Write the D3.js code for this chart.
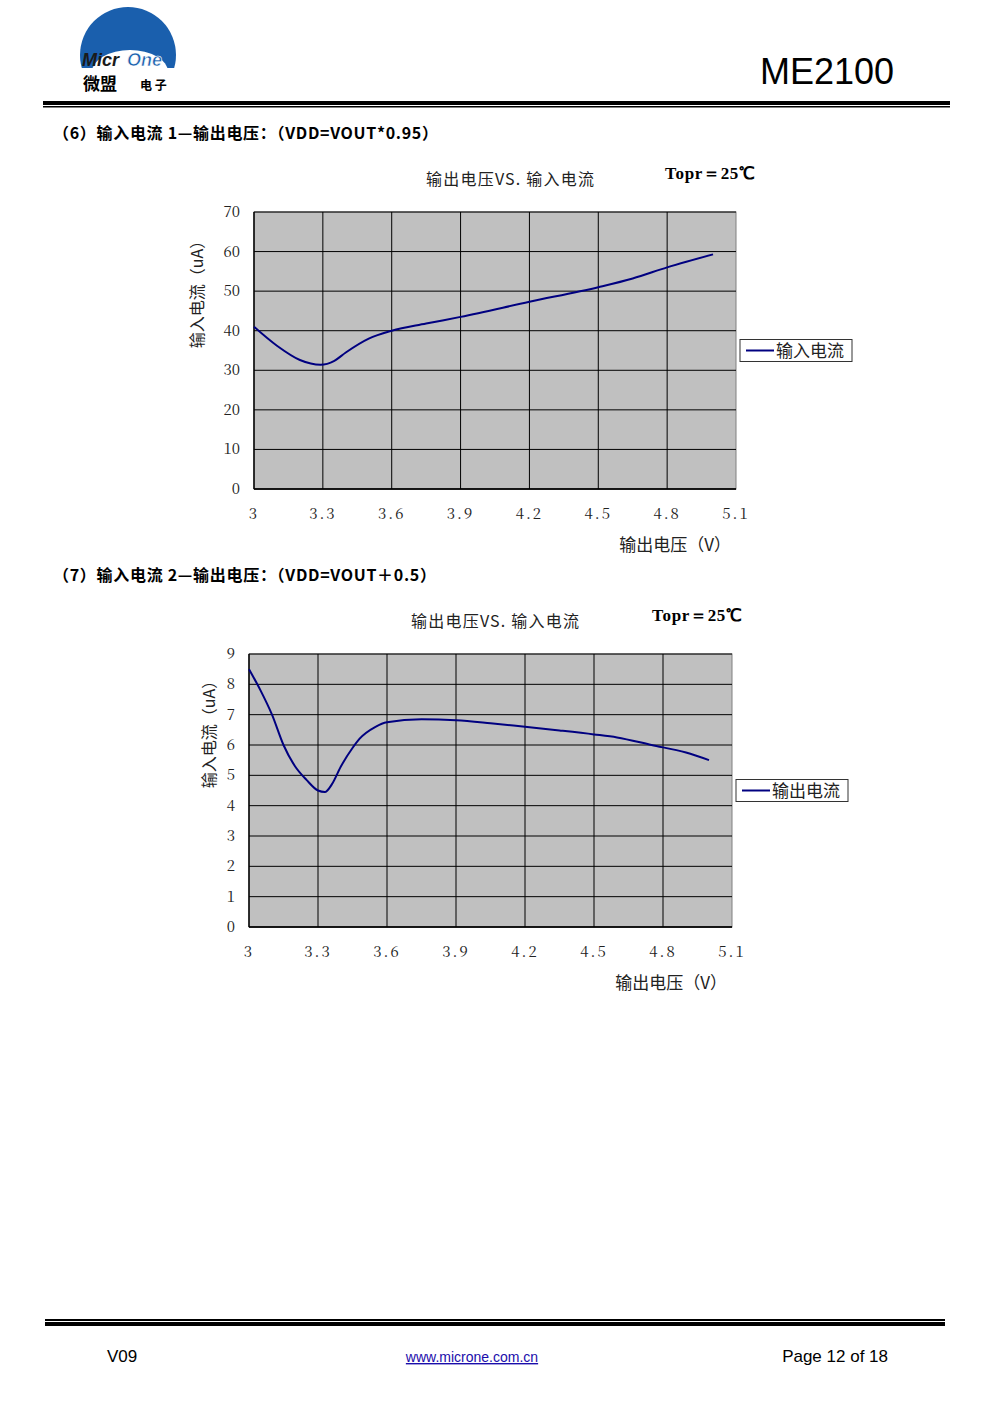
<!DOCTYPE html>
<html><head><meta charset="utf-8">
<script src="https://cdn.jsdelivr.net/npm/d3@7"></script>
<style>body{margin:0;background:#fff}svg{display:block}</style>
</head><body><div id="root"></div>
<script>
// chart values
var xTicks = [3, 3.3, 3.6, 3.9, 4.2, 4.5, 4.8, 5.1];
var volt1 = [3.0, 3.1, 3.2, 3.29, 3.35, 3.4, 3.5, 3.6, 3.75, 3.9, 4.2, 4.5, 4.65, 4.8, 5.0];
var curr1 = [41, 36.2, 32.6, 31.4, 32.4, 34.5, 38, 40, 41.8, 43.5, 47.3, 51, 53.2, 56, 59.3];
var volt2 = [3.0, 3.05, 3.1, 3.15, 3.2, 3.25, 3.3, 3.33, 3.36, 3.4, 3.45, 3.48, 3.55, 3.6, 3.75, 3.9, 4.05, 4.2, 4.35, 4.5, 4.6, 4.75, 4.9, 5.0];
var curr2 = [8.5, 7.8, 7.0, 6.0, 5.3, 4.85, 4.5, 4.45, 4.7, 5.3, 5.9, 6.2, 6.6, 6.75, 6.85, 6.82, 6.72, 6.6, 6.48, 6.35, 6.25, 6.0, 5.75, 5.5];

var root = d3.select('#root');
var svg = root.append('svg').attr('width', 991).attr('height', 1403);
var cjk = '"Noto Sans CJK SC", sans-serif';
var serifCjk = '"Noto Serif CJK SC","Noto Sans CJK SC", serif';

/** header */
var logo = svg.append('g');
logo.append('circle').attr('cx', 128).attr('cy', 55).attr('r', 48).attr('fill', '#1a5fad');
logo.append('ellipse').attr('cx', 130).attr('cy', 72).attr('rx', 38).attr('ry', 22).attr('fill', '#fff');
logo.append('rect').attr('x', 78).attr('y', 68).attr('width', 102).attr('height', 40).attr('fill', '#fff');
logo.append('text').attr('x', 82).attr('y', 66).attr('font-family', 'Liberation Sans, Arial').attr('font-weight', 'bold').attr('font-style', 'italic').attr('font-size', 18).attr('fill', '#1a1a1a').text('Micr');
logo.append('text').attr('x', 127).attr('y', 66).attr('font-family', 'Liberation Sans, Arial').attr('font-weight', 'bold').attr('font-style', 'italic').attr('font-size', 18).attr('fill', '#1a5fad').attr('stroke', '#fff').attr('stroke-width', 0.6).text('One');
logo.append('text').attr('x', 83).attr('y', 90).attr('font-family', cjk).attr('font-weight', 'bold').attr('font-size', 17).text('微盟');
logo.append('text').attr('x', 140).attr('y', 90).attr('font-family', cjk).attr('font-weight', 'bold').attr('font-size', 12).text('电 子');
svg.append('text').attr('x', 894).attr('y', 84).attr('text-anchor', 'end').attr('font-family', 'Liberation Sans, Arial').attr('font-size', 36).text('ME2100');
svg.append('rect').attr('x', 43).attr('y', 101).attr('width', 907).attr('height', 4);
svg.append('rect').attr('x', 43).attr('y', 106).attr('width', 907).attr('height', 1.5);

/** footer */
svg.append('rect').attr('x', 45).attr('y', 1319).attr('width', 900).attr('height', 2);
svg.append('rect').attr('x', 45).attr('y', 1322).attr('width', 900).attr('height', 4);
svg.append('text').attr('x', 107).attr('y', 1362).attr('font-family', 'Liberation Sans, Arial').attr('font-size', 17).text('V09');
svg.append('text').attr('x', 472).attr('y', 1362).attr('text-anchor', 'middle').attr('font-family', 'Liberation Sans, Arial').attr('font-size', 14).attr('fill', '#1a0dab').attr('text-decoration', 'underline').text('www.microne.com.cn');
svg.append('text').attr('x', 888).attr('y', 1362).attr('text-anchor', 'end').attr('font-family', 'Liberation Sans, Arial').attr('font-size', 17).text('Page 12 of 18');

/** section titles */
svg.append('text').attr('x', 53).attr('y', 139).attr('font-family', cjk).attr('font-weight', 'bold').attr('font-size', 16).attr('textLength', 385).text('（6）输入电流 1—输出电压：（VDD=VOUT*0.95）');
svg.append('text').attr('x', 53).attr('y', 581).attr('font-family', cjk).attr('font-weight', 'bold').attr('font-size', 16).attr('textLength', 383).text('（7）输入电流 2—输出电压：（VDD=VOUT＋0.5）');

function drawChart(o) {
  var g = svg.append('g');
  var x = d3.scaleLinear().domain([3, 5.1]).range([o.left, o.right]);
  var y = d3.scaleLinear().domain([0, o.ymax]).range([o.bottom, o.top]);
  g.append('rect').attr('x', o.left).attr('y', o.top).attr('width', o.right - o.left).attr('height', o.bottom - o.top).attr('fill', '#c0c0c0').attr('stroke', '#808080');
  g.selectAll('.hg').data(o.yTicks).enter().append('line')
    .attr('x1', o.left).attr('x2', o.right).attr('y1', function (d) { return y(d); }).attr('y2', function (d) { return y(d); })
    .attr('stroke', '#000').attr('stroke-width', 1);
  g.selectAll('.vg').data(xTicks.slice(1, -1)).enter().append('line')
    .attr('y1', o.top).attr('y2', o.bottom).attr('x1', function (d) { return x(d); }).attr('x2', function (d) { return x(d); })
    .attr('stroke', '#000').attr('stroke-width', 1);
  g.append('line').attr('x1', o.left).attr('x2', o.left).attr('y1', o.top).attr('y2', o.bottom).attr('stroke', '#000').attr('stroke-width', 1.5);
  g.append('line').attr('x1', o.left).attr('x2', o.right).attr('y1', o.bottom).attr('y2', o.bottom).attr('stroke', '#000').attr('stroke-width', 1.5);
  g.selectAll('.yl').data(o.yTicks).enter().append('text')
    .attr('x', o.left - 14).attr('y', function (d) { return y(d) + 5; }).attr('text-anchor', 'end')
    .attr('font-family', serifCjk).attr('font-size', 15).attr('fill', '#222').text(function (d) { return d; });
  g.selectAll('.xl').data(xTicks).enter().append('text')
    .attr('x', function (d) { return x(d); }).attr('y', o.bottom + 30).attr('text-anchor', 'middle')
    .attr('font-family', serifCjk).attr('font-size', 15).attr('fill', '#222').attr('letter-spacing', 2).text(function (d) { return d; });
  var line = d3.line().curve(d3.curveMonotoneX).x(function (d) { return x(d[0]); }).y(function (d) { return y(d[1]); });
  g.append('path').datum(d3.zip(o.xs, o.ys)).attr('d', line).attr('fill', 'none').attr('stroke', '#000080').attr('stroke-width', 2);
  g.append('text').attr('x', o.titleX).attr('y', o.top - 27).attr('text-anchor', 'middle').attr('font-family', cjk).attr('font-size', 16).attr('fill', '#222').attr('textLength', 168).text('输出电压VS. 输入电流');
  g.append('text').attr('x', o.toprX).attr('y', o.top - 33).attr('font-family', 'Liberation Serif, serif').attr('font-weight', 'bold').attr('font-size', 17).attr('textLength', 90).text('Topr＝25℃');
  g.append('text').attr('transform', 'translate(' + o.ylabX + ',' + ((o.top + o.bottom) / 2 - 60) + ') rotate(-90)')
    .attr('text-anchor', 'middle').attr('font-family', cjk).attr('font-size', 16).attr('fill', '#222').text('输入电流（uA）');
  g.append('text').attr('x', o.right - 5).attr('y', o.bottom + 62).attr('text-anchor', 'end').attr('font-family', cjk).attr('font-size', 17).attr('fill', '#222').text('输出电压（V）');
  var ly = (o.top + o.bottom) / 2 + o.legDy;
  g.append('rect').attr('x', o.right + 4).attr('y', ly - 11).attr('width', 112).attr('height', 22).attr('fill', '#fff').attr('stroke', '#333');
  g.append('line').attr('x1', o.right + 10).attr('x2', o.right + 38).attr('y1', ly).attr('y2', ly).attr('stroke', '#000080').attr('stroke-width', 2);
  g.append('text').attr('x', o.right + 40).attr('y', ly + 6).attr('font-family', cjk).attr('font-size', 17).attr('fill', '#222').text(o.legend);
}

drawChart({ left: 254, right: 736, top: 212, bottom: 489, ymax: 70, yTicks: [0, 10, 20, 30, 40, 50, 60, 70],
  xs: volt1, ys: curr1, titleX: 510, toprX: 665, ylabX: 203, legDy: 0, legend: '输入电流' });
drawChart({ left: 249, right: 732, top: 654, bottom: 927, ymax: 9, yTicks: d3.range(0, 10),
  xs: volt2, ys: curr2, titleX: 495, toprX: 652, ylabX: 215, legDy: 0, legend: '输出电流' });
</script></body></html>
